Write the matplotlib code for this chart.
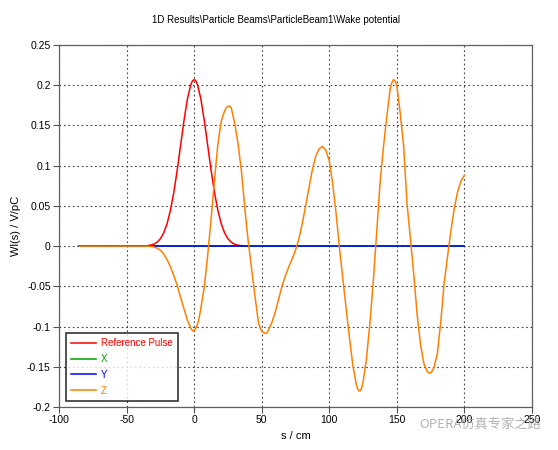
import matplotlib
matplotlib.use("Agg")
import matplotlib.pyplot as plt

# ---- data ----
ref_s = [-85, -40, -37.5, -35, -32.5, -30, -27.5, -25, -22.5, -20, -17.5, -15, -12.5, -10, -7.5, -5, -2.5,
         -1.25, 0, 1.25,
         2.5, 5, 7.5, 10, 12.5, 15, 17.5, 20, 22.5, 25, 27.5, 30, 32.5, 35, 37.5, 40]
ref_w = [0, 0, 0.0002, 0.0005, 0.0011, 0.0023, 0.0047, 0.0091, 0.0165, 0.0280, 0.0448, 0.0672, 0.0948, 0.1256,
         0.1562, 0.1827, 0.2006, 0.2054, 0.207, 0.2054,
         0.2006, 0.1827, 0.1562, 0.1256, 0.0948, 0.0672, 0.0448, 0.0280, 0.0165, 0.0091, 0.0047, 0.0023, 0.0011,
         0.0005, 0.0002, 0]

xy_s = [-85, 200]
x_w = [0, 0]
y_w = [0, 0]

z_s = [-85, -40, -35, -32.5, -30, -27.5, -25, -22.5, -20, -17.5, -15, -12.5, -10, -7.5, -5, -2.5, -1, 0,
       1.25, 2.5, 3.75, 5, 7.5, 10, 12.5, 15, 17.5, 20, 22.5, 23.75, 25, 26.25, 27.5, 30, 32.5, 35, 37.5,
       40, 42.5, 45, 47.5, 48.75, 50, 51.25, 52.5, 53.75, 55, 57.5, 60, 62.5, 65, 67.5, 70, 72.5, 75, 77.5,
       80, 82.5, 85, 87.5, 90, 92.5, 95, 97.5, 100, 102.5, 105, 107.5, 110, 112.5, 115, 117.5, 120, 121,
       122, 123, 124, 125, 127.5, 130, 132.5, 135, 137.5, 140, 142.5, 145, 146.25, 147.5, 148.75, 150,
       152.5, 155, 157.5, 160, 162.5, 165, 167.5, 170, 172.5, 174, 175.5, 177.5, 180, 182.5, 185, 187.5,
       190, 192.5, 195, 197.5, 200]
z_w = [0, 0, 0, -0.0003, -0.001, -0.0025, -0.005, -0.010, -0.017, -0.026, -0.037, -0.049, -0.064, -0.078,
       -0.092, -0.102, -0.1055, -0.105,
       -0.102, -0.097, -0.089, -0.077, -0.051, -0.012, 0.033, 0.081, 0.126, 0.155, 0.168, 0.1718, 0.1738,
       0.174, 0.1715, 0.153, 0.127, 0.093, 0.047,
       0.006, -0.028, -0.062, -0.094, -0.1015, -0.1055, -0.1075, -0.1085, -0.108, -0.1045, -0.095, -0.082,
       -0.066, -0.050, -0.037, -0.026, -0.016, -0.005, 0.009,
       0.028, 0.050, 0.073, 0.095, 0.112, 0.121, 0.124, 0.119, 0.106, 0.078, 0.041, -0.002, -0.040, -0.078,
       -0.115, -0.149, -0.172, -0.1775,
       -0.180, -0.180, -0.176, -0.169, -0.140, -0.097, -0.045, 0.015, 0.077, 0.122, 0.160, 0.195, 0.203,
       0.207, 0.205, 0.199,
       0.165, 0.125, 0.053, 0.010, -0.035, -0.085, -0.122, -0.146, -0.156, -0.158, -0.157, -0.151, -0.133,
       -0.094, -0.046, -0.013,
       0.019, 0.047, 0.068, 0.081, 0.088]

xticks = [-100, -50, 0, 50, 100, 150, 200, 250]
yticks = [-0.2, -0.15, -0.1, -0.05, 0, 0.05, 0.1, 0.15, 0.2, 0.25]
ytick_labels = ["-0.2", "-0.15", "-0.1", "-0.05", "0", "0.05", "0.1", "0.15", "0.2", "0.25"]

plt.rcParams['font.family'] = ['Liberation Sans', 'DejaVu Sans']

fig = plt.figure(figsize=(5.58, 4.5), dpi=100)
ax = fig.add_axes([59 / 558, 43 / 450, (532 - 59) / 558, (407 - 45) / 450])

ax.plot(ref_s, ref_w, color='#ff0000', lw=1.1, label='Reference Pulse')
ax.plot(xy_s, x_w, color='#00a000', lw=1.1, label='X')
ax.plot(xy_s, y_w, color='#0000ff', lw=1.1, label='Y')
ax.plot(z_s, z_w, color='#ff8000', lw=1.1, label='Z')

ax.set_xlim(-100, 250)
ax.set_ylim(-0.2, 0.25)
ax.set_xticks(xticks)
ax.set_xticklabels([str(t) for t in xticks])
ax.set_yticks(yticks)
ax.set_yticklabels(ytick_labels)
ax.tick_params(labelsize=7.5, length=4, width=0.8, color='#505050', pad=2)
ax.grid(True, linestyle=(0, (1.5, 2.5)), color='#404040', lw=0.8)
for sp in ax.spines.values():
    sp.set_color('#606060')
    sp.set_linewidth(0.9)

ax.set_xlabel('s / cm', fontsize=8, labelpad=4)
ax.set_ylabel('Wl(s) / V/pC', fontsize=8, labelpad=4)
fig.text(0.495, 0.955, r'1D Results\Particle Beams\ParticleBeam1\Wake potential', ha='center', va='center',
         fontsize=7)

leg = ax.legend(loc='lower left', bbox_to_anchor=(7 / 473, 6 / 362), fontsize=7, frameon=True,
                fancybox=False, edgecolor='black', handlelength=2.5, handletextpad=0.5, borderpad=0.55,
                labelspacing=0.6, borderaxespad=0)
leg.get_frame().set_linewidth(1.2)
for txt, line in zip(leg.get_texts(), leg.get_lines()):
    txt.set_color(line.get_color())

fig.text(0.97, 0.058, 'OPERA仿真专家之路', ha='right', va='center', fontsize=9.5, color='#a0a0a0', alpha=0.8,
         family=['Noto Sans CJK SC', 'DejaVu Sans'])

fig.savefig('out.png', dpi=100)
